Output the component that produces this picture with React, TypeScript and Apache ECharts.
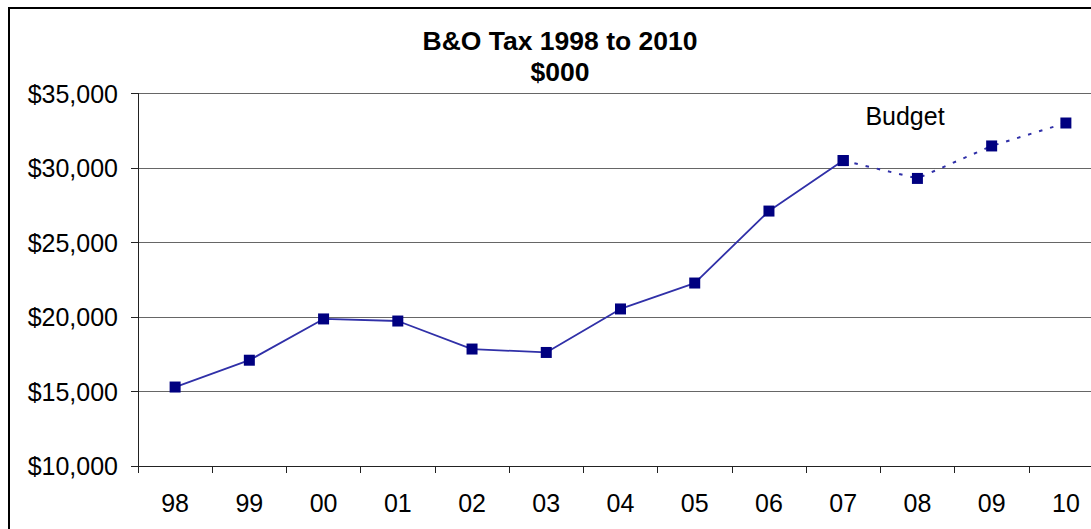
import React, { useEffect, useRef } from "react";
import * as echarts from "echarts";

const categories = ["98", "99", "00", "01", "02", "03", "04", "05", "06", "07", "08", "09", "10"];
const actualValues = [15300, 17100, 19870, 19730, 17850, 17620, 20540, 22280, 27110, 30500];
const budgetValues = [29300, 31480, 33020];
const yTicks = { min: 10000, max: 35000, interval: 5000 };
const titleLines = ["B&O Tax 1998 to 2010", "$000"];
const budgetLabel = "Budget";

const FONT = "'Liberation Sans', Arial, sans-serif";

export default function App() {
  const ref = useRef<HTMLDivElement>(null);
  useEffect(() => {
    if (!ref.current) return;
    const chart = echarts.init(ref.current, undefined, { renderer: "svg" });
    const solid = categories.map((_, i) => (i < actualValues.length ? actualValues[i] : null));
    const lastIdx = actualValues.length - 1;
    const dashed = categories.map((_, i) => {
      if (i < lastIdx) return null;
      if (i === lastIdx) return actualValues[lastIdx];
      return budgetValues[i - actualValues.length];
    });
    chart.setOption({
      animation: false,
      backgroundColor: "#ffffff",
      grid: { left: 138, right: 0, top: 93.5, bottom: 63, containLabel: false },
      xAxis: {
        type: "category",
        data: categories,
        boundaryGap: true,
        axisLine: { lineStyle: { color: "#222", width: 1 } },
        axisTick: { show: true, length: 7, lineStyle: { color: "#222" } },
        axisLabel: { color: "#000", fontSize: 25, fontFamily: FONT, margin: 24 },
        splitLine: { show: false },
      },
      yAxis: {
        type: "value",
        min: yTicks.min,
        max: yTicks.max,
        interval: yTicks.interval,
        axisLine: { show: true, lineStyle: { color: "#222", width: 1 } },
        axisTick: { show: true, length: 7, lineStyle: { color: "#222" } },
        axisLabel: {
          color: "#000",
          fontSize: 25,
          fontFamily: FONT,
          margin: 20,
          formatter: (v: number) => "$" + v.toLocaleString("en-US"),
        },
        splitLine: { show: true, lineStyle: { color: "#666", width: 1 } },
      },
      series: [
        {
          type: "line",
          data: solid,
          symbol: "rect",
          symbolSize: 11,
          itemStyle: { color: "#000080" },
          lineStyle: { color: "#3030a8", width: 1.8 },
          z: 3,
        },
        {
          type: "line",
          data: dashed,
          symbol: "rect",
          symbolSize: 11,
          itemStyle: { color: "#000080" },
          lineStyle: { color: "#3030a8", width: 2, type: [3.5, 8] },
          z: 2,
        },
      ],
      graphic: [
        {
          type: "rect",
          shape: { x: 9, y: 8, width: 1300, height: 800 },
          style: { fill: "none", stroke: "#000", lineWidth: 2 },
          z: 10,
        },
        {
          type: "text",
          x: 560,
          y: 41,
          style: {
            text: titleLines[0],
            font: `bold 26.5px ${FONT}`,
            fill: "#000",
            textAlign: "center",
            textVerticalAlign: "middle",
          },
        },
        {
          type: "text",
          x: 560,
          y: 72,
          style: {
            text: titleLines[1],
            font: `bold 26.5px ${FONT}`,
            fill: "#000",
            textAlign: "center",
            textVerticalAlign: "middle",
          },
        },
        {
          type: "text",
          x: 905,
          y: 116,
          style: {
            text: budgetLabel,
            font: `25px ${FONT}`,
            fill: "#000",
            textAlign: "center",
            textVerticalAlign: "middle",
          },
        },
      ],
    });
    return () => chart.dispose();
  }, []);
  return (
    <div
      style={{
        position: "fixed",
        left: 0,
        top: 0,
        width: 1091,
        height: 529,
        overflow: "hidden",
        background: "#fff",
      }}
    >
      <div ref={ref} style={{ width: 1103, height: 529 }} />
    </div>
  );
}
